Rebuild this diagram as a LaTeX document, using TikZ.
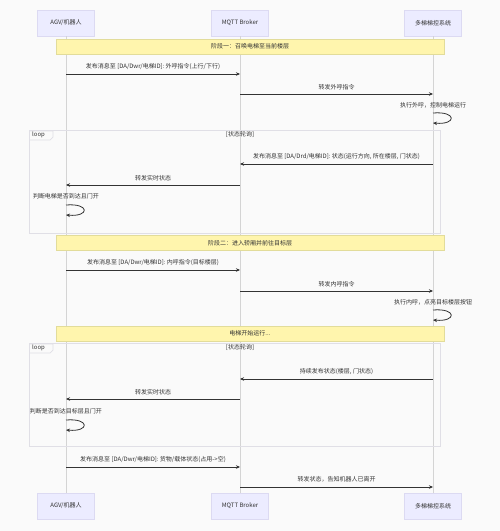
\documentclass[tikz,border=0pt]{standalone}
\usepackage{fontspec}
\setmainfont{Noto Sans CJK SC}
\usetikzlibrary{arrows.meta}
\definecolor{bgc}{HTML}{FAFAFA}
\definecolor{actfill}{HTML}{ECECFF}
\definecolor{actline}{HTML}{DCDAF2}
\definecolor{notefill}{HTML}{FFF5AD}
\definecolor{noteline}{HTML}{E2DC9A}
\definecolor{loopline}{HTML}{E0DFE6}
\definecolor{lifec}{HTML}{D4D4D4}
\definecolor{txt}{HTML}{333333}
\begin{document}
\begin{tikzpicture}[x=1pt,y=-1pt,
  lbl/.style={font=\fontsize{6}{7}\selectfont, text=txt, inner sep=1pt},
  actor/.style={lbl, draw=actline, fill=actfill, minimum width=57pt, minimum height=26pt, line width=0.6pt},
  note/.style={lbl, draw=noteline, fill=notefill, minimum width=388pt, minimum height=15pt, line width=0.6pt},
  life/.style={draw=lifec, line width=0.7pt},
  msg/.style={draw=txt, line width=0.8pt, -{Stealth[length=4pt,width=3.5pt]}},
  loopbox/.style={draw=loopline, line width=0.7pt},
]
\fill[bgc] (0,0) rectangle (500,531);
\useasboundingbox (0,0) rectangle (500,531);

% actors
\node[actor] (a1) at (66,23) {AGV/机器人};
\node[actor] (b1) at (240,23) {MQTT Broker};
\node[actor] (c1) at (433,23) {多梯梯控系统};
\node[actor] (a2) at (66,506) {AGV/机器人};
\node[actor] (b2) at (240,506) {MQTT Broker};
\node[actor] (c2) at (433,506) {多梯梯控系统};

% lifelines
\draw[life] (a1) -- (a2);
\draw[life] (b1) -- (b2);
\draw[life] (c1) -- (c2);

% loop boxes
\draw[loopbox] (29,130) rectangle (440,233);
\node[lbl, anchor=north west] (l1) at (31,131) {loop};
\draw[loopbox] (29,131) -- (53,131) -- (53,137) -- (50,140) -- (29,140);
\node[lbl, anchor=north] (l1c) at (240,130.5) {[状态轮询]};

\draw[loopbox] (29,343) rectangle (440,446);
\node[lbl, anchor=north west] (l2) at (31,344) {loop};
\draw[loopbox] (29,344) -- (53,344) -- (53,350) -- (50,353) -- (29,353);
\node[lbl, anchor=north] (l2c) at (240,343.5) {[状态轮询]};

% notes
\node[note] (n1) at (250,46.5) {阶段一：召唤电梯至当前楼层};
\node[note] (n2) at (250,243) {阶段二：进入轿厢并前往目标层};
\node[note] (n3) at (250,333.5) {电梯开始运行...};

% message endpoints
\foreach \n/\y in {1/74,2/94,3/113,4/164,5/185,6/205,7/270,8/291,9/310,10/379,11/399,12/420,13/467,14/487}{
  \coordinate (pa\n) at (66,\y);
  \coordinate (pb\n) at (240,\y);
  \coordinate (pc\n) at (433,\y);
}

% phase 1
\draw[msg] (pa1) -- node[lbl, above=3pt] (t1) {发布消息至 [DA/Dwr/电梯ID]: 外呼指令(上行/下行)} (pb1);
\draw[msg] (pb2) -- node[lbl, above=3pt] (t2) {转发外呼指令} (pc2);
\node[lbl] (t3) at (433,105) {执行外呼，控制电梯运行};
\draw[msg] (pc3) .. controls +(24,-2) and +(24,2) .. ([yshift=-10pt]pc3);

% loop 1
\draw[msg] (pc4) -- node[lbl, above=3pt] (t4) {发布消息至 [DA/Drd/电梯ID]: 状态(运行方向, 所在楼层, 门状态)} (pb4);
\draw[msg] (pb5) -- node[lbl, above=3pt] (t5) {转发实时状态} (pa5);
\node[lbl] (t6) at (66,196) {判断电梯是否到达且门开};
\draw[msg] (pa6) .. controls +(24,-2) and +(24,2) .. ([yshift=-10pt]pa6);

% phase 2
\draw[msg] (pa7) -- node[lbl, above=3pt] (t7) {发布消息至 [DA/Dwr/电梯ID]: 内呼指令(目标楼层)} (pb7);
\draw[msg] (pb8) -- node[lbl, above=3pt] (t8) {转发内呼指令} (pc8);
\node[lbl] (t9) at (433,302) {执行内呼，点亮目标楼层按钮};
\draw[msg] (pc9) .. controls +(24,-2) and +(24,2) .. ([yshift=-10pt]pc9);

% loop 2
\draw[msg] (pc10) -- node[lbl, above=3pt] (t10) {持续发布状态(楼层, 门状态)} (pb10);
\draw[msg] (pb11) -- node[lbl, above=3pt] (t11) {转发实时状态} (pa11);
\node[lbl] (t12) at (66,411) {判断是否到达目标层且门开};
\draw[msg] (pa12) .. controls +(24,-2) and +(24,2) .. ([yshift=-10pt]pa12);

% leave
\draw[msg] (pa13) -- node[lbl, above=3pt] (t13) {发布消息至 [DA/Dwr/电梯ID]: 货物/载体状态(占用->空)} (pb13);
\draw[msg] (pb14) -- node[lbl, above=3pt] (t14) {转发状态，告知机器人已离开} (pc14);
\end{tikzpicture}
\end{document}
